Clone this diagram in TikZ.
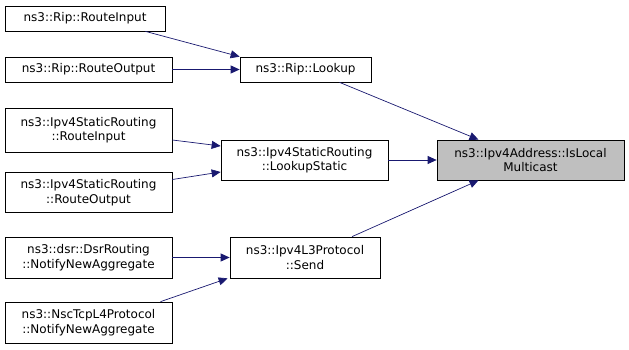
\documentclass[tikz,border=0pt]{standalone}
\usepackage{fontspec}
\setmainfont{DejaVu Sans}
\usepackage{tikz}
\usetikzlibrary{positioning,arrows.meta}
\usepackage{xcolor}
\definecolor{edgeblue}{RGB}{25,25,112}
\definecolor{hitgray}{RGB}{191,191,191}

\begin{document}
\begin{tikzpicture}[x=1pt,y=-1pt,
  >={Triangle[length=9pt,width=8pt]},
  fn/.style={draw,line width=0.7pt,inner sep=0pt,align=center,
    font=\fontsize{12}{14.5}\selectfont},
  call/.style={->,edgeblue,line width=0.7pt}]
\useasboundingbox (0,0) rectangle (629,350);
% callers on the left
\node[fn,minimum width=160,minimum height=25] (ripin) at (85,18.5) {ns3::Rip::RouteInput};
\node[fn,minimum width=167,minimum height=25] (ripout) at (88.5,69.5) {ns3::Rip::RouteOutput};
\node[fn,minimum width=167,minimum height=44] (statin) at (88.5,130) {ns3::Ipv4StaticRouting\\::RouteInput};
\node[fn,minimum width=167,minimum height=40] (statout) at (88.5,192.5) {ns3::Ipv4StaticRouting\\::RouteOutput};
\node[fn,minimum width=167,minimum height=41] (dsr) at (88.5,257.5) {ns3::dsr::DsrRouting\\::NotifyNewAggregate};
\node[fn,minimum width=167,minimum height=41] (nsc) at (88.5,322.5) {ns3::NscTcpL4Protocol\\::NotifyNewAggregate};
% middle column
\node[fn,minimum width=131,minimum height=25] (lookup) at (305.5,69.5) {ns3::Rip::Lookup};
\node[fn,minimum width=167,minimum height=40] (lstatic) at (304.5,160) {ns3::Ipv4StaticRouting\\::LookupStatic};
\node[fn,minimum width=150,minimum height=41] (send) at (305,257.5) {ns3::Ipv4L3Protocol\\::Send};
% the called function
\node[fn,fill=hitgray,minimum width=187,minimum height=40] (islm) at (530.5,160) {ns3::Ipv4Address::IsLocal\\Multicast};

\draw[call] ([xshift=-20]ripin.south east) -- (lookup.north west);
\draw[call] (ripout) -- (lookup);
\draw[call] ([xshift=34]lookup.south) -- ([xshift=-52]islm.north);
\draw[call] ([yshift=-10]statin.east) -- ([yshift=14]lstatic.west);
\draw[call] ([yshift=13]statout.east) -- ([yshift=-12]lstatic.west);
\draw[call] (lstatic) -- (islm);
\draw[call] (dsr) -- (send);
\draw[call] ([xshift=72]nsc.north) -- ([xshift=-2]send.south west);
\draw[call] ([xshift=47]send.north) -- ([xshift=-52]islm.south);
\end{tikzpicture}
\end{document}
